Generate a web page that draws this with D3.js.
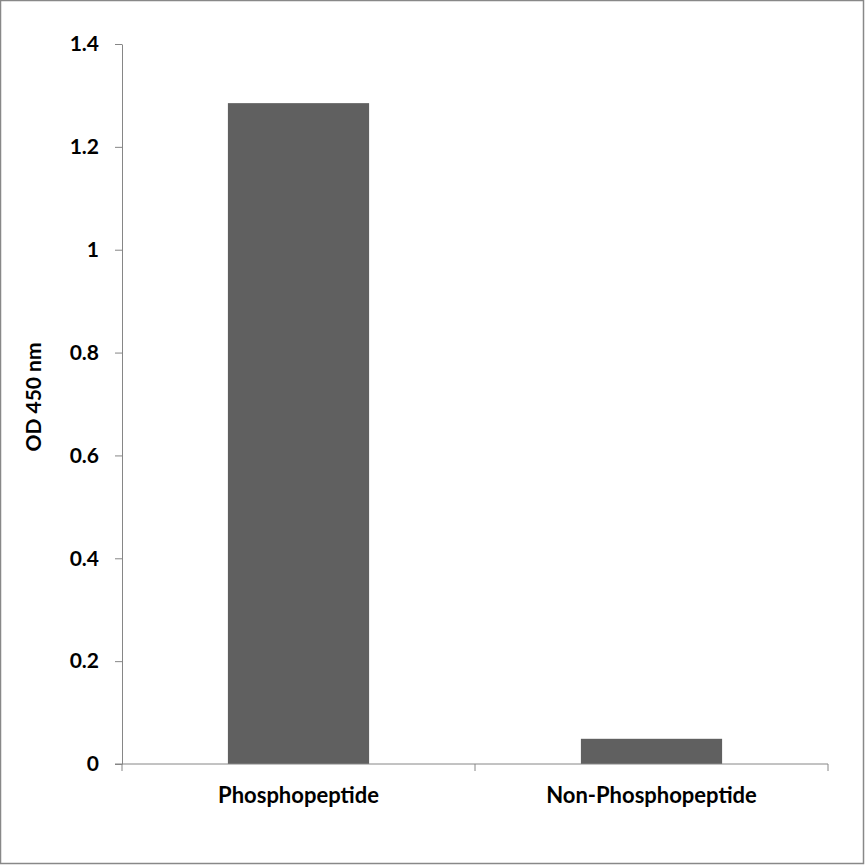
<!DOCTYPE html>
<html lang="en">
<head>
  <meta charset="UTF-8">
  <title>OD 450 nm</title>
  <script src="https://d3js.org/d3.v7.min.js"></script>
  <style>
    body {
      margin: 0;
      padding: 0;
      background: #fff;
    }
    svg {
      display: block;
      font-family: Lato, "Open Sans", sans-serif;
      font-weight: bold;
    }
    .axis path, .axis line {
      stroke: #868686;
    }
  </style>
</head>
<body>
  <svg id="chart" width="865" height="865"></svg>

  <script>
    // data
    const categories = ["Phosphopeptide", "Non-Phosphopeptide"];
    const odValues = [1.285, 0.049];
    const yTicks = [0, 0.2, 0.4, 0.6, 0.8, 1, 1.2, 1.4];

    const width = 865;
    const height = 865;
    const margin = { top: 44, right: 37, bottom: 101, left: 122 };

    const svg = d3.select("#chart");

    // outer frame
    svg.append("rect")
      .attr("x", 0.5)
      .attr("y", 0.5)
      .attr("width", width - 2)
      .attr("height", height - 2)
      .attr("fill", "#fff")
      .attr("stroke", "#888")
      .attr("stroke-width", 1.5);

    const xScale = d3.scaleBand()
      .domain(categories)
      .range([margin.left, width - margin.right])
      .padding(0);

    const yScale = d3.scaleLinear()
      .domain([0, 1.4])
      .range([height - margin.bottom, margin.top]);

    // bars, 40% of each band
    const barW = xScale.bandwidth() * 0.4;
    svg.selectAll(".bar")
      .data(odValues)
      .enter().append("rect")
      .attr("class", "bar")
      .attr("x", (d, i) => xScale(categories[i]) + (xScale.bandwidth() - barW) / 2)
      .attr("y", d => yScale(d))
      .attr("width", barW)
      .attr("height", d => yScale(0) - yScale(d))
      .attr("fill", "#606060");

    // y axis
    const yAxis = svg.append("g")
      .attr("class", "axis")
      .attr("transform", `translate(${margin.left},0)`)
      .call(d3.axisLeft(yScale).tickValues(yTicks).tickSize(7).tickSizeOuter(0)
        .tickPadding(16).tickFormat(d3.format("~g")));
    yAxis.selectAll("text")
      .attr("fill", "#000")
      .style("font-size", "21px")
      .style("font-family", "Lato, 'Open Sans', sans-serif")
      .style("font-weight", "bold");
    yAxis.select(".domain").attr("stroke", "#868686");

    // x axis, ticks at band edges
    const xAxis = svg.append("g")
      .attr("class", "axis")
      .attr("transform", `translate(0,${yScale(0)})`);
    xAxis.append("line")
      .attr("x1", margin.left - 7)
      .attr("x2", width - margin.right)
      .attr("y1", 0).attr("y2", 0)
      .attr("stroke", "#868686");
    const edges = categories.map(c => xScale(c)).concat([xScale.range()[1]]);
    xAxis.selectAll(".edge")
      .data(edges)
      .enter().append("line")
      .attr("x1", d => d).attr("x2", d => d)
      .attr("y1", 0).attr("y2", 7)
      .attr("stroke", "#868686");
    xAxis.selectAll(".cat")
      .data(categories)
      .enter().append("text")
      .attr("x", d => xScale(d) + xScale.bandwidth() / 2)
      .attr("y", 39)
      .attr("text-anchor", "middle")
      .attr("fill", "#000")
      .style("font-size", "22px")
      .text(d => d);

    // y axis title
    svg.append("text")
      .attr("transform", `translate(41,${(yScale(0) + yScale(1.4)) / 2 - 7}) rotate(-90)`)
      .attr("text-anchor", "middle")
      .attr("fill", "#000")
      .style("font-size", "21px")
      .text("OD 450 nm");
  </script>
</body>
</html>
